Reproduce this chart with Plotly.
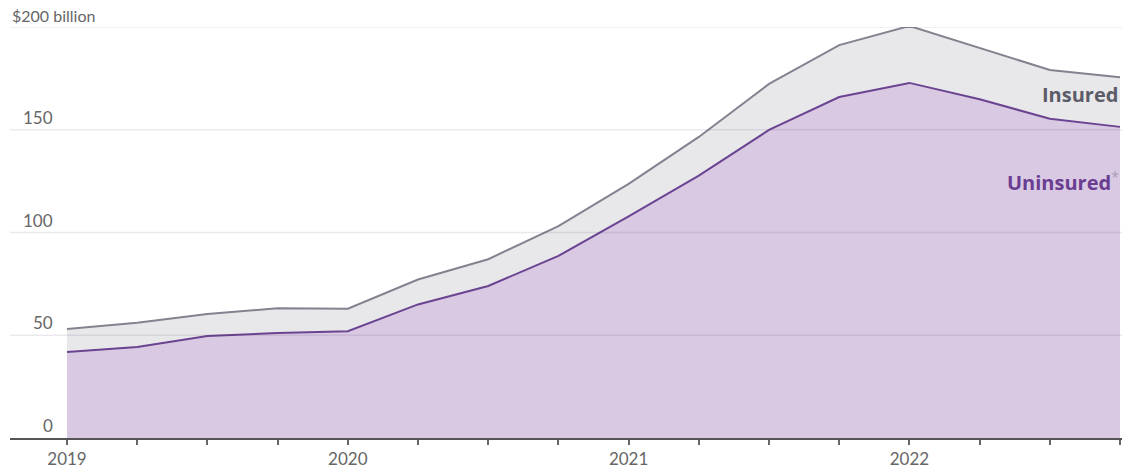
import plotly.graph_objects as go

quarters = [2019 + 0.25 * i for i in range(16)]
uninsured = [41.8, 44.3, 49.6, 51.1, 52.0, 65.0, 74.0, 88.6, 107.8, 127.7, 149.9, 165.9, 172.8, 164.8, 155.4, 151.4]
insured = [11.2, 11.8, 10.7, 12.0, 10.9, 12.1, 13.0, 14.5, 15.9, 18.8, 22.4, 25.3, 27.7, 25.0, 23.7, 24.1]
year_ticks = [2019, 2020, 2021, 2022]
y_ticks = [0, 50, 100, 150, 200]
y_labels = ["0", "50", "100", "150", "$200 billion"]

FONT = "Lato, 'Open Sans', sans-serif"
LFONT = "'Open Sans', Lato, sans-serif"
fig = go.Figure()
fig.add_trace(go.Scatter(
    x=quarters, y=uninsured, stackgroup="one", mode="lines",
    line=dict(color="#6a4491", width=2), fillcolor="#d9c9e3", name="Uninsured",
))
fig.add_trace(go.Scatter(
    x=quarters, y=insured, stackgroup="one", mode="lines",
    line=dict(color="#858290", width=2), fillcolor="#e8e8ea", name="Insured",
))

shapes = []
annotations = []
for v, lab in zip(y_ticks, y_labels):
    if v > 0:
        shapes.append(dict(type="line", xref="paper", x0=0, x1=1, yref="y", y0=v, y1=v,
                           line=dict(color="rgba(60,40,80,0.10)", width=1.5), layer="above"))
    if v == 200:
        annotations.append(dict(xref="paper", x=0.0, y=v, yref="y", text=lab, showarrow=False,
                                xanchor="left", yanchor="bottom", yshift=0,
                                font=dict(family=FONT, size=16, color="#666666")))
    else:
        annotations.append(dict(xref="paper", x=0.0405, y=v, yref="y", text=lab, showarrow=False,
                                xanchor="right", yanchor="bottom", yshift=0,
                                font=dict(family=FONT, size=17, color="#666666")))

annotations.append(dict(xref="paper", x=0.9985, y=167, yref="y", text="<b>Insured</b>", showarrow=False,
                        xanchor="right", yanchor="middle",
                        font=dict(family=LFONT, size=20, color="#5c5c68")))
annotations.append(dict(xref="paper", x=0.9995, y=125, yref="y",
                        text="<b>Uninsured</b><sup><span style='color:#a99cb5'>*</span></sup>",
                        showarrow=False, xanchor="right", yanchor="middle",
                        font=dict(family=LFONT, size=20, color="#6a3d91")))

fig.update_layout(
    width=1122, height=469,
    margin=dict(l=10, r=0, t=27, b=31),
    paper_bgcolor="white", plot_bgcolor="white",
    showlegend=False,
    shapes=shapes, annotations=annotations,
    xaxis=dict(range=[2018.797, 2022.757], tickvals=year_ticks,
               ticktext=[str(y) for y in year_ticks],
               ticks="outside", ticklen=5, tickwidth=2, tickcolor="#666666",
               minor=dict(tick0=2019, dtick=0.25, ticks="outside", ticklen=5, tickwidth=2,
                          tickcolor="#666666", showgrid=False),
               showline=True, linecolor="#555555", linewidth=2, showgrid=False, zeroline=False,
               tickfont=dict(family=FONT, size=17, color="#666666")),
    yaxis=dict(range=[0, 200], showticklabels=False, showgrid=False, zeroline=False, showline=False),
)

fig.write_html("out.html")
